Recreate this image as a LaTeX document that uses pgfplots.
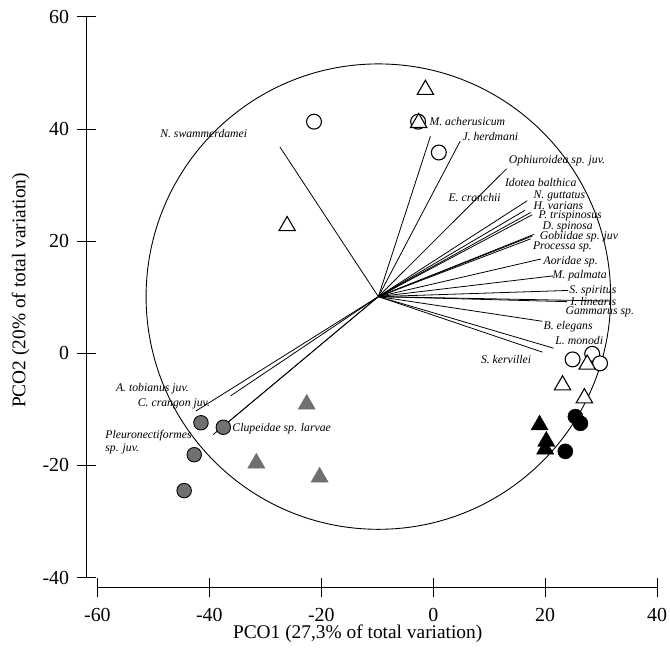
\documentclass[border=0pt]{standalone}
\usepackage{fontspec}
\setmainfont{Liberation Serif}
\usepackage{pgfplots}
\pgfplotsset{compat=1.18}
\definecolor{mgray}{RGB}{112,112,112}
\pgfplotsset{vec/.style={black, solid, line width=0.8pt, mark=none}}
\begin{document}
\begin{tikzpicture}
\begin{axis}[
  scale only axis, width=563pt, height=564pt,
  xmin=-60, xmax=40, ymin=-40, ymax=60,
  axis lines*=left,
  axis x line shift=10pt, axis y line shift=11pt,
  xtick={-60,-40,...,40}, ytick={-40,-20,...,60},
  tick align=center, major tick length=20pt,
  every tick/.style={black, line width=0.9pt},
  axis line style={black, line width=0.9pt},
  /pgf/number format/assume math mode=true,
  ticklabel style={font=\fontsize{20}{24}\selectfont},
  yticklabel style={xshift=-4pt},
  xticklabel style={yshift=-7pt},
  clip=false,
  xlabel={PCO1 (27,3\% of total variation)},
  ylabel={PCO2 (20\% of total variation)},
  label style={font=\fontsize{19.5}{23}\selectfont},
  xlabel style={at={(axis description cs:0.465,-0.1)}, anchor=center},
  ylabel style={at={(axis description cs:-0.137,0.512)}, anchor=center, rotate=0},
]
% markers
\addplot[only marks, mark=*, mark size=7.5pt, mark options={fill=white, draw=black, line width=1.1pt}]
  coordinates {(-21.3,41.3) (-2.7,41.3) (1.0,35.8) (24.9,-1.1) (28.4,-0.1) (29.8,-1.8)};
\addplot[only marks, mark=triangle*, mark size=9.5pt, mark options={fill=white, draw=black, line width=1.1pt}]
  coordinates {(-1.4,47.0) (-2.6,41.1) (-26.1,22.7) (27.5,-2.0) (23.1,-5.7) (27.0,-8.0)};
\addplot[only marks, mark=*, mark size=7.6pt, mark options={fill=black, draw=black}]
  coordinates {(25.4,-11.3) (26.3,-12.5) (23.6,-17.5)};
\addplot[only marks, mark=triangle*, mark size=10pt, mark options={fill=black, draw=black}]
  coordinates {(19.0,-12.8) (20.2,-15.7) (20.0,-17.1)};
\addplot[only marks, mark=*, mark size=7.3pt, mark options={fill=mgray, draw=black, line width=0.9pt}]
  coordinates {(-41.5,-12.4) (-37.5,-13.2) (-42.7,-18.1) (-44.5,-24.5)};
\addplot[only marks, mark=triangle*, mark size=10pt, mark options={fill=mgray, draw=mgray}]
  coordinates {(-22.6,-9.1) (-31.6,-19.6) (-20.3,-22.1)};
% correlation circle
\draw[black, line width=0.9pt] (axis cs:-9.8,10.1) circle [radius=41.5];
% vectors
\addplot[vec] coordinates {(-9.8,10.1) (-27.4,36.8)};
\addplot[vec] coordinates {(-9.8,10.1) (-0.5,38.7)};
\addplot[vec] coordinates {(-9.8,10.1) (4.8,37.8)};
\addplot[vec] coordinates {(-9.8,10.1) (13.1,32.9)};
\addplot[vec] coordinates {(-9.8,10.1) (16.8,27.2)};
\addplot[vec] coordinates {(-9.8,10.1) (16.4,25.5)};
\addplot[vec] coordinates {(-9.8,10.1) (17.4,25.1)};
\addplot[vec] coordinates {(-9.8,10.1) (17.7,24.7)};
\addplot[vec] coordinates {(-9.8,10.1) (18.0,21.2)};
\addplot[vec] coordinates {(-9.8,10.1) (17.7,20.9)};
\addplot[vec] coordinates {(-9.8,10.1) (17.4,20.4)};
\addplot[vec] coordinates {(-9.8,10.1) (19.2,16.8)};
\addplot[vec] coordinates {(-9.8,10.1) (21.4,13.8)};
\addplot[vec] coordinates {(-9.8,10.1) (24.1,11.2)};
\addplot[vec] coordinates {(-9.8,10.1) (23.9,9.2)};
\addplot[vec] coordinates {(-9.8,10.1) (31.6,9.3)};
\addplot[vec] coordinates {(-9.8,10.1) (19.5,5.7)};
\addplot[vec] coordinates {(-9.8,10.1) (21.5,0.9)};
\addplot[vec] coordinates {(-9.8,10.1) (19.5,0.2)};
\addplot[vec] coordinates {(-9.8,10.1) (-42.4,-10.3)};
\addplot[vec] coordinates {(-9.8,10.1) (-36.2,-7.6)};
\addplot[vec] coordinates {(-9.8,10.1) (-39.3,-14.5)};
\addplot[vec] coordinates {(-9.8,10.1) (-38.7,-14.0)};
% labels
\tikzset{sp/.style={anchor=west, inner sep=0pt, font=\fontsize{11.8}{13}\selectfont\itshape}}
\node[sp] at (axis cs:13.5,34.3) {Ophiuroidea sp. juv.};
\node[sp] at (axis cs:12.8,30.5) {Idotea balthica};
\node[sp] at (axis cs:17.9,28.1) {N. guttatus};
\node[sp] at (axis cs:17.9,26.3) {H. varians};
\node[sp] at (axis cs:18.8,24.5) {P. trispinosus};
\node[sp] at (axis cs:19.5,22.6) {D. spinosa};
\node[sp] at (axis cs:19.0,20.8) {Gobiidae sp. juv};
\node[sp] at (axis cs:17.8,19.0) {Processa sp.};
\node[sp] at (axis cs:19.7,16.4) {Aoridae sp.};
\node[sp] at (axis cs:21.3,13.9) {M. palmata};
\node[sp] at (axis cs:24.3,11.2) {S. spiritus};
\node[sp] at (axis cs:24.5,9.3) {I. linearis};
\node[sp] at (axis cs:23.6,7.3) {Gammarus sp.};
\node[sp] at (axis cs:19.7,4.8) {B. elegans};
\node[sp] at (axis cs:21.8,2.2) {L. monodi};
\node[sp] at (axis cs:8.5,-1.2) {S. kervillei};
\node[sp] at (axis cs:2.7,27.7) {E. cranchii};
\node[sp] at (axis cs:-48.8,39.1) {N. swammerdamei};
\node[sp] at (axis cs:-0.7,41.4) {M. acherusicum};
\node[sp] at (axis cs:5.2,38.7) {J. herdmani};
\node[sp] at (axis cs:-56.7,-6.3) {A. tobianus juv.};
\node[sp] at (axis cs:-52.8,-9.0) {C. crangon juv.};
\node[sp] at (axis cs:-58.6,-14.7) {Pleuronectiformes};
\node[sp] at (axis cs:-58.6,-17.1) {sp. juv.};
\node[sp] at (axis cs:-35.9,-13.4) {Clupeidae sp. larvae};
\coordinate (bbA) at (axis cs:-77.4,63.0);
\coordinate (bbB) at (axis cs:42.3,-54.2);
\end{axis}
\pgfresetboundingbox
\useasboundingbox (bbA) rectangle (bbB);
\end{tikzpicture}
\end{document}
